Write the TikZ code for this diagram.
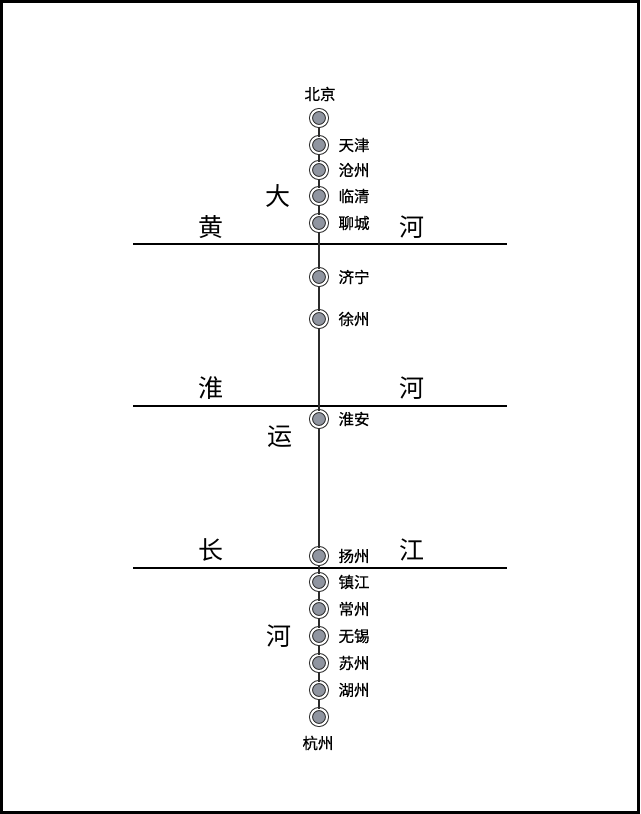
\documentclass[tikz,border=0pt]{standalone}
\usepackage{fontspec}
\setmainfont{Noto Sans CJK SC}
\newfontfamily\stopfont[FakeBold=0.6]{Noto Sans CJK SC}
\definecolor{stopgray}{HTML}{9095A0}
\definecolor{linegray}{HTML}{2B2B2B}
\tikzset{
  stop/.style={circle, inner sep=0pt, minimum size=16pt, fill=stopgray,
    draw=linegray, line width=1pt, double=white, double distance=2pt},
  stoplabel/.style={font=\stopfont\fontsize{15.5pt}{15.5pt}\selectfont},
  bigchar/.style={font=\fontsize{25pt}{25pt}\selectfont}
}
\begin{document}
\begin{tikzpicture}[x=1pt, y=-1pt]
            \useasboundingbox (0,0) rectangle (640,814);
            \draw[black, line width=3pt] (1.5,1.5) rectangle (638.5,812.5);
            % rivers
            \draw[black, line width=1.5pt] (133,244) -- (507,244);
            \draw[black, line width=1.5pt] (133,406) -- (507,406);
            \draw[black, line width=1.5pt] (133,568) -- (507,568);
            \node[bigchar] (huang) at (211,227) {黄};
            \node[bigchar] (huanghe) at (412,227) {河};
            \node[bigchar] (huai) at (211,388) {淮};
            \node[bigchar] (huaihe) at (412,388) {河};
            \node[bigchar] (chang) at (211,550) {长};
            \node[bigchar] (jiang) at (412,550) {江};
            % canal name
            \node[bigchar] (da) at (278,196) {大};
            \node[bigchar] (yun) at (280,437) {运};
            \node[bigchar] (he) at (279,636) {河};
            % stations
            \node[stop] (bj) at (319,118) {};
            \node[stop] (tj) at (319,145) {};
            \node[stop] (cz) at (319,170) {};
            \node[stop] (lq) at (319,196) {};
            \node[stop] (lc) at (319,223) {};
            \node[stop] (jn) at (319,277) {};
            \node[stop] (xz) at (319,319) {};
            \node[stop] (ha) at (319,419) {};
            \node[stop] (yz) at (319,556) {};
            \node[stop] (zj) at (319,582) {};
            \node[stop] (czh) at (319,609) {};
            \node[stop] (wx) at (319,636) {};
            \node[stop] (sz) at (319,663) {};
            \node[stop] (hzh) at (319,690) {};
            \node[stop] (hz) at (319,717) {};
            \draw[linegray, line width=2pt] (bj) -- (tj) -- (cz) -- (lq) -- (lc) -- (jn)
              -- (xz) -- (ha) -- (yz) -- (zj) -- (czh) -- (wx) -- (sz) -- (hzh) -- (hz);
            % station names
            \node[stoplabel] (bjname) at (320,94) {北京};
            \node[stoplabel] (hzname) at (318,743) {杭州};
            \node[stoplabel, anchor=west] (tjname) at (335,145) {天津};
            \node[stoplabel, anchor=west] (czname) at (335,170) {沧州};
            \node[stoplabel, anchor=west] (lqname) at (335,196) {临清};
            \node[stoplabel, anchor=west] (lcname) at (335,223) {聊城};
            \node[stoplabel, anchor=west] (jnname) at (335,277) {济宁};
            \node[stoplabel, anchor=west] (xzname) at (335,319) {徐州};
            \node[stoplabel, anchor=west] (haname) at (335,419) {淮安};
            \node[stoplabel, anchor=west] (yzname) at (335,556) {扬州};
            \node[stoplabel, anchor=west] (zjname) at (335,582) {镇江};
            \node[stoplabel, anchor=west] (czhname) at (335,609) {常州};
            \node[stoplabel, anchor=west] (wxname) at (335,636) {无锡};
            \node[stoplabel, anchor=west] (szname) at (335,663) {苏州};
            \node[stoplabel, anchor=west] (hzhname) at (335,690) {湖州};

        \end{tikzpicture}
\end{document}
